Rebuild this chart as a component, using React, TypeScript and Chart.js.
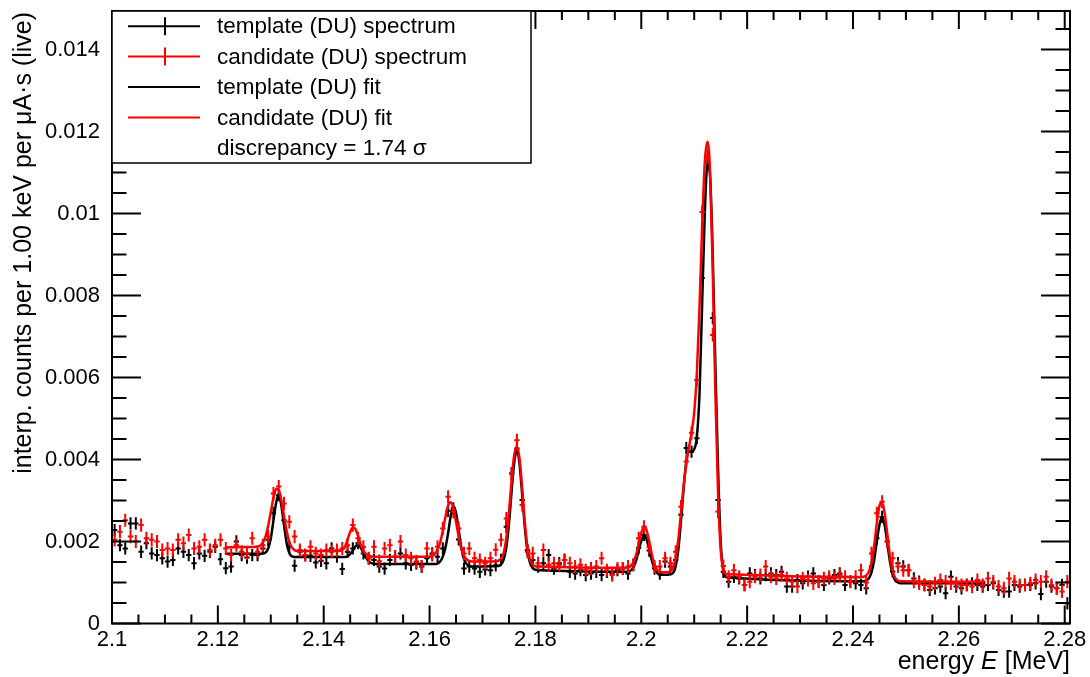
import React, { useEffect, useRef } from "react";
import { Chart, registerables } from "chart.js";

Chart.register(...registerables);

const FONT = "'Liberation Sans', Arial, Helvetica, sans-serif";
const UNIT = 1e-3; // spectrum values below are in units of 1e-3

// axis ranges
const X_MIN = 2.1;
const X_MAX = 2.281;
const Y_MIN = 0;
const Y_MAX = 0.01494;

// bins (1 keV wide)
const FIRST_BIN_CENTER = 2.1005;
const BIN_WIDTH = 0.001;

// template (DU) spectrum, black
const templateSpectrum = [
  2.28, 1.91, 1.83, 2.44, 2.44, 1.75, 1.96, 1.71, 1.67, 1.59,
  1.51, 1.55, 1.83, 1.75, 1.67, 1.47, 1.71, 1.65, 1.75, 1.87,
  1.57, 1.35, 1.39, 2.0, 1.67, 1.61, 1.67, 1.67, 1.83, 2.04,
  2.69, 3.13, 2.52, 1.87, 1.41, 1.75, 1.67, 1.65, 1.49, 1.53,
  1.47, 1.83, 1.63, 1.33, 1.75, 1.83, 1.96, 1.71, 1.59, 1.55,
  1.39, 1.34, 1.55, 1.63, 1.71, 1.47, 1.43, 1.47, 1.39, 1.59,
  1.71, 1.63, 1.83, 2.75, 2.81, 2.05, 1.34, 1.39, 1.34, 1.26,
  1.32, 1.3, 1.42, 1.55, 2.36, 3.66, 4.27, 3.01, 1.79, 1.55,
  1.39, 1.47, 1.67, 1.34, 1.47, 1.55, 1.26, 1.22, 1.3, 1.18,
  1.22, 1.26, 1.18, 1.26, 1.22, 1.3, 1.34, 1.22, 1.43, 1.84,
  2.16, 1.78, 1.34, 1.22, 1.51, 1.39, 1.55, 2.65, 4.28, 4.19,
  4.52, 8.43, 11.26, 7.45, 3.01, 1.26, 1.02, 1.14, 1.1, 0.94,
  1.22, 1.18, 1.1, 1.18, 1.22, 1.18, 1.26, 0.9, 0.9, 1.06,
  0.98, 1.14, 1.22, 1.02, 0.94, 1.1, 1.18, 1.22, 0.94, 1.02,
  0.98, 0.94, 0.86, 1.39, 2.08, 2.6, 2.0, 1.27, 1.47, 1.39,
  1.3, 1.1, 1.02, 0.94, 0.82, 0.86, 0.9, 0.74, 1.14, 0.9,
  0.86, 0.94, 0.98, 0.94, 0.9, 0.94, 0.98, 0.82, 0.78, 0.78,
  0.94, 0.9, 0.94, 0.94, 0.98, 0.72, 1.02, 0.9, 0.86, 0.94,
  0.49,
];

// candidate (DU) spectrum, red
const candidateSpectrum = [
  2.04, 2.24, 2.52, 2.12, 2.0, 2.4, 2.08, 2.04, 2.0, 1.79,
  1.83, 1.79, 2.04, 1.96, 2.16, 1.83, 1.87, 2.04, 1.79, 1.91,
  2.04, 1.83, 1.67, 1.91, 1.75, 1.71, 2.08, 1.75, 1.91, 2.12,
  3.17, 3.34, 2.93, 2.48, 2.12, 1.79, 1.67, 1.87, 1.71, 1.67,
  1.79, 1.75, 1.79, 1.83, 1.91, 2.4, 2.08, 1.87, 1.59, 1.87,
  1.52, 1.83, 1.91, 1.63, 2.0, 1.67, 1.59, 1.51, 1.39, 1.83,
  1.67, 1.87, 2.32, 3.09, 2.73, 2.32, 1.71, 1.83, 1.59, 1.55,
  1.47, 1.59, 1.8, 2.04, 2.56, 3.66, 4.47, 2.89, 1.75, 1.71,
  1.47, 1.79, 1.43, 1.47, 1.43, 1.55, 1.47, 1.39, 1.43, 1.3,
  1.34, 1.39, 1.59, 1.3, 1.18, 1.34, 1.34, 1.39, 1.43, 2.08,
  2.36, 1.87, 1.39, 1.39, 1.59, 1.47, 1.75, 2.85, 3.95, 4.65,
  5.94, 10.04, 11.39, 7.04, 2.73, 1.4, 1.14, 1.3, 1.14, 0.94,
  1.02, 1.14, 1.18, 1.39, 1.14, 1.1, 1.18, 1.1, 1.02, 0.9,
  1.1, 1.06, 0.98, 1.02, 1.1, 1.14, 1.1, 1.18, 1.14, 1.02,
  1.14, 1.3, 1.0, 1.71, 2.69, 2.97, 2.0, 1.59, 1.39, 1.3,
  1.3, 1.02, 0.98, 0.94, 0.9, 0.98, 1.06, 1.02, 0.98, 0.98,
  0.94, 0.94, 0.9, 1.06, 0.94, 1.1, 1.02, 0.9, 0.86, 1.1,
  1.02, 0.94, 0.94, 0.98, 1.06, 1.02, 1.14, 0.94, 0.86, 0.78,
  1.02,
];

const TEMPLATE_ERR = 0.15;
const CANDIDATE_ERR = 0.16;

// template (DU) fit, black
const templateFitE = [
  2.1215, 2.128, 2.1285, 2.129, 2.1295, 2.13, 2.1305, 2.131, 2.1315, 2.132, 2.1325, 2.133, 2.1335, 2.134, 2.135,
  2.144, 2.1445, 2.145, 2.1455, 2.146, 2.1465, 2.147, 2.1475, 2.148, 2.1485, 2.149, 2.15,
  2.161, 2.1615, 2.162, 2.1625, 2.163, 2.1635, 2.164, 2.1645, 2.165, 2.1655, 2.166, 2.1665, 2.167, 2.1675, 2.168,
  2.173, 2.1735, 2.174, 2.1745, 2.175, 2.1755, 2.176, 2.1765, 2.177, 2.1775, 2.178, 2.1785, 2.179, 2.1795, 2.18, 2.181,
  2.197, 2.1976, 2.1981, 2.1986, 2.1991, 2.1996, 2.2001, 2.2006, 2.2011, 2.2016, 2.2021, 2.2026, 2.2031, 2.2036,
  2.205, 2.2055, 2.206, 2.2065, 2.207, 2.2075, 2.208, 2.2085, 2.209, 2.2095, 2.21, 2.2105, 2.211, 2.2115, 2.212,
  2.2125, 2.213, 2.2135, 2.214, 2.2145, 2.215, 2.2155, 2.216, 2.2165,
  2.242, 2.2425, 2.243, 2.2435, 2.244, 2.2445, 2.245, 2.2455, 2.246, 2.2465, 2.247, 2.2475, 2.248, 2.2485, 2.249, 2.265,
];
const templateFitV = [
  1.7, 1.7, 1.71, 1.73, 1.83, 2.07, 2.51, 2.94, 3.15, 2.88, 2.4, 1.96, 1.72, 1.64, 1.62,
  1.62, 1.64, 1.69, 1.78, 1.88, 1.92, 1.85, 1.72, 1.6, 1.52, 1.47, 1.45,
  1.45, 1.46, 1.51, 1.63, 1.85, 2.2, 2.62, 2.86, 2.7, 2.28, 1.85, 1.57, 1.45, 1.4, 1.39,
  1.4, 1.44, 1.56, 1.86, 2.43, 3.23, 3.93, 4.24, 3.89, 3.14, 2.34, 1.77, 1.47, 1.35, 1.31, 1.3,
  1.26, 1.27, 1.3, 1.39, 1.57, 1.83, 2.05, 2.16, 2.01, 1.75, 1.49, 1.31, 1.22, 1.19,
  1.19, 1.2, 1.23, 1.4, 1.8, 2.5, 3.3, 3.95, 4.2, 4.2, 4.25, 4.55, 5.6, 7.8, 10.0,
  11.2, 10.9, 9.0, 6.3, 3.8, 2.0, 1.28, 1.14, 1.12,
  1.03, 1.05, 1.1, 1.25, 1.55, 2.0, 2.41, 2.6, 2.39, 1.95, 1.5, 1.2, 1.05, 1.0, 0.98, 0.98,
];

// candidate (DU) fit, red
const candidateFitE = [
  2.1215, 2.1275, 2.128, 2.1285, 2.129, 2.1295, 2.13, 2.1305, 2.131, 2.1315, 2.132, 2.1325, 2.133, 2.1335, 2.134, 2.1345, 2.135,
  2.143, 2.1435, 2.144, 2.1445, 2.145, 2.1455, 2.146, 2.1465, 2.147, 2.1475, 2.148, 2.1485, 2.1495,
  2.16, 2.1605, 2.161, 2.1615, 2.162, 2.1625, 2.163, 2.1635, 2.164, 2.1645, 2.165, 2.1655, 2.166, 2.1665, 2.167, 2.168,
  2.1725, 2.173, 2.1735, 2.174, 2.1745, 2.175, 2.1755, 2.176, 2.1765, 2.177, 2.1775, 2.178, 2.1785, 2.179, 2.1795, 2.18, 2.181,
  2.197, 2.1976, 2.1981, 2.1986, 2.1991, 2.1996, 2.2001, 2.2006, 2.2011, 2.2016, 2.2021, 2.2026, 2.2031, 2.2036,
  2.205, 2.2055, 2.206, 2.2065, 2.207, 2.2075, 2.208, 2.2085, 2.209, 2.2095, 2.21, 2.2105, 2.211, 2.2115, 2.212,
  2.2125, 2.213, 2.2135, 2.214, 2.2145, 2.215, 2.2155, 2.216, 2.2165,
  2.2415, 2.242, 2.2425, 2.243, 2.2435, 2.244, 2.2445, 2.245, 2.2455, 2.246, 2.2465, 2.247, 2.2475, 2.248, 2.2485, 2.249, 2.265,
];
const candidateFitV = [
  1.86, 1.87, 1.9, 1.97, 2.12, 2.38, 2.72, 3.06, 3.28, 3.26, 3.0, 2.62, 2.26, 1.99, 1.85, 1.79, 1.77,
  1.77, 1.8, 1.87, 2.05, 2.23, 2.34, 2.3, 2.13, 1.93, 1.78, 1.69, 1.65, 1.63,
  1.63, 1.65, 1.7, 1.8, 1.97, 2.26, 2.6, 2.88, 2.96, 2.8, 2.48, 2.12, 1.83, 1.65, 1.56, 1.51,
  1.52, 1.53, 1.58, 1.72, 2.08, 2.72, 3.5, 4.12, 4.32, 4.02, 3.3, 2.47, 1.86, 1.55, 1.43, 1.4, 1.39,
  1.36, 1.37, 1.41, 1.51, 1.71, 2.0, 2.25, 2.37, 2.23, 1.93, 1.62, 1.4, 1.29, 1.25,
  1.25, 1.28, 1.36, 1.6, 2.05, 2.7, 3.35, 3.9, 4.3, 4.65, 5.15, 6.1, 7.7, 9.7, 11.25,
  11.75, 11.0, 8.6, 5.6, 3.2, 1.8, 1.32, 1.21, 1.2,
  1.13, 1.14, 1.17, 1.26, 1.48, 1.9, 2.45, 2.87, 2.96, 2.68, 2.15, 1.63, 1.28, 1.11, 1.05, 1.03, 1.02,
];

// axes
const xMajorTicks = [2.1, 2.12, 2.14, 2.16, 2.18, 2.2, 2.22, 2.24, 2.26, 2.28];
const xMajorLabels = ["2.1", "2.12", "2.14", "2.16", "2.18", "2.2", "2.22", "2.24", "2.26", "2.28"];
const X_MINOR_STEP = 0.005;
const yMajorTicks = [0, 0.002, 0.004, 0.006, 0.008, 0.01, 0.012, 0.014];
const yMajorLabels = ["0", "0.002", "0.004", "0.006", "0.008", "0.01", "0.012", "0.014"];
const Y_MINOR_STEP = 0.0005;

const X_TITLE_PARTS = ["energy ", "E", " [MeV]"];
const Y_TITLE = "interp. counts per 1.00 keV per \u03bcA\u00b7s (live)";

const legendEntries = [
  { label: "template (DU) spectrum", color: "#000000", kind: "cross" },
  { label: "candidate (DU) spectrum", color: "#ff0000", kind: "cross" },
  { label: "template (DU) fit", color: "#000000", kind: "line" },
  { label: "candidate (DU) fit", color: "#ff0000", kind: "line" },
  { label: "discrepancy = 1.74 \u03c3", color: "#000000", kind: "none" },
];

const binCenters = templateSpectrum.map((_, k) => FIRST_BIN_CENTER + k * BIN_WIDTH);

function drawCrosses(chart: any, values: number[], err: number, color: string) {
  const { ctx, chartArea: a } = chart;
  const xs = chart.scales.x;
  const ys = chart.scales.y;
  ctx.save();
  ctx.beginPath();
  ctx.rect(a.left, a.top, a.right - a.left, a.bottom - a.top);
  ctx.clip();
  ctx.strokeStyle = color;
  ctx.lineWidth = 2;
  ctx.beginPath();
  values.forEach((v, k) => {
    const e = binCenters[k];
    const px = xs.getPixelForValue(e);
    const py = ys.getPixelForValue(v * UNIT);
    const x0 = xs.getPixelForValue(e - BIN_WIDTH / 2);
    const x1 = xs.getPixelForValue(e + BIN_WIDTH / 2);
    const y0 = ys.getPixelForValue((v - err) * UNIT);
    const y1 = ys.getPixelForValue((v + err) * UNIT);
    ctx.moveTo(x0, py);
    ctx.lineTo(x1, py);
    ctx.moveTo(px, y0);
    ctx.lineTo(px, y1);
  });
  ctx.stroke();
  ctx.restore();
}

const rootStylePlugin = {
  id: "rootStyle",
  beforeDatasetsDraw(chart: any) {
    drawCrosses(chart, templateSpectrum, TEMPLATE_ERR, "#000000");
  },
  beforeDatasetDraw(chart: any, args: any) {
    if (args.index === 1) drawCrosses(chart, candidateSpectrum, CANDIDATE_ERR, "#ff0000");
  },
  afterDraw(chart: any) {
    const { ctx, chartArea: a } = chart;
    const xs = chart.scales.x;
    const ys = chart.scales.y;
    ctx.save();
    ctx.strokeStyle = "#000";
    ctx.lineWidth = 2;
    // ticks
    const xMajLen = 18, xMinLen = 9, yMajLen = 29, yMinLen = 14.5;
    ctx.beginPath();
    for (let i = 0; ; i++) {
      const v = X_MIN + i * X_MINOR_STEP;
      if (v > X_MAX + 1e-9) break;
      const isMajor = i % 4 === 0;
      const len = isMajor ? xMajLen : xMinLen;
      const px = xs.getPixelForValue(v);
      ctx.moveTo(px, a.bottom);
      ctx.lineTo(px, a.bottom - len);
      ctx.moveTo(px, a.top);
      ctx.lineTo(px, a.top + len);
    }
    for (let i = 0; ; i++) {
      const v = Y_MIN + i * Y_MINOR_STEP;
      if (v > Y_MAX + 1e-12) break;
      const isMajor = i % 4 === 0;
      const len = isMajor ? yMajLen : yMinLen;
      const py = ys.getPixelForValue(v);
      ctx.moveTo(a.left, py);
      ctx.lineTo(a.left + len, py);
      ctx.moveTo(a.right, py);
      ctx.lineTo(a.right - len, py);
    }
    ctx.stroke();
    ctx.strokeRect(a.left, a.top, a.right - a.left, a.bottom - a.top);

    // tick labels
    ctx.fillStyle = "#000";
    ctx.font = `22px ${FONT}`;
    ctx.textAlign = "center";
    ctx.textBaseline = "middle";
    xMajorTicks.forEach((v, i) => {
      ctx.fillText(xMajorLabels[i], xs.getPixelForValue(v), a.bottom + 16);
    });
    ctx.textAlign = "right";
    yMajorTicks.forEach((v, i) => {
      ctx.fillText(yMajorLabels[i], a.left - 12, ys.getPixelForValue(v));
    });

    // x title
    const tNormal = `25px ${FONT}`;
    const tItalic = `italic 25px ${FONT}`;
    ctx.textBaseline = "alphabetic";
    ctx.textAlign = "left";
    const fonts = [tNormal, tItalic, tNormal];
    let total = 0;
    const widths = X_TITLE_PARTS.map((p, i) => {
      ctx.font = fonts[i];
      const w = ctx.measureText(p).width;
      total += w;
      return w;
    });
    let cx = a.right - total;
    X_TITLE_PARTS.forEach((p, i) => {
      ctx.font = fonts[i];
      ctx.fillText(p, cx, 669);
      cx += widths[i];
    });

    // y title
    ctx.save();
    ctx.font = tNormal;
    ctx.translate(31, 12);
    ctx.rotate(-Math.PI / 2);
    ctx.textAlign = "right";
    ctx.textBaseline = "alphabetic";
    ctx.fillText(Y_TITLE, 0, 0);
    ctx.restore();

    // legend
    const lx0 = a.left, ly0 = a.top, lx1 = 531, ly1 = 163;
    ctx.fillStyle = "#fff";
    ctx.fillRect(lx0, ly0, lx1 - lx0, ly1 - ly0);
    ctx.lineWidth = 1.5;
    ctx.strokeStyle = "#000";
    ctx.strokeRect(lx0, ly0, lx1 - lx0, ly1 - ly0);
    const rowH = (ly1 - ly0) / legendEntries.length;
    const legendFont = `22.5px ${FONT}`;
    legendEntries.forEach((en, i) => {
      const cy = ly0 + rowH * (i + 0.5);
      if (en.kind !== "none") {
        ctx.strokeStyle = en.color;
        ctx.lineWidth = 2;
        ctx.beginPath();
        ctx.moveTo(128, cy);
        ctx.lineTo(200, cy);
        if (en.kind === "cross") {
          ctx.moveTo(165, cy - 9);
          ctx.lineTo(165, cy + 9);
        }
        ctx.stroke();
      }
      ctx.fillStyle = "#000";
      ctx.font = legendFont;
      ctx.textAlign = "left";
      ctx.textBaseline = "middle";
      ctx.fillText(en.label, 217, cy + 1);
    });
    ctx.restore();
  },
};

export default function App() {
  const canvasRef = useRef<HTMLCanvasElement | null>(null);

  useEffect(() => {
    if (!canvasRef.current) return;
    const toPts = (xs: number[], ys: number[]) => xs.map((x, i) => ({ x, y: ys[i] * UNIT }));
    const chart = new Chart(canvasRef.current, {
      type: "scatter",
      data: {
        datasets: [
          {
            label: "template (DU) fit",
            data: toPts(templateFitE, templateFitV),
            showLine: true,
            borderColor: "#000000",
            backgroundColor: "#000000",
            borderWidth: 2.5,
            pointRadius: 0,
            cubicInterpolationMode: "monotone",
            order: 2,
          },
          {
            label: "candidate (DU) fit",
            data: toPts(candidateFitE, candidateFitV),
            showLine: true,
            borderColor: "#ff0000",
            backgroundColor: "#ff0000",
            borderWidth: 2.5,
            pointRadius: 0,
            cubicInterpolationMode: "monotone",
            order: 1,
          },
        ],
      } as any,
      options: {
        animation: false,
        responsive: false,
        devicePixelRatio: 1,
        layout: { padding: { left: 112, top: 11, right: 20, bottom: 53.5 } },
        scales: {
          x: { type: "linear", min: X_MIN, max: X_MAX, display: false },
          y: { type: "linear", min: Y_MIN, max: Y_MAX, display: false },
        },
        plugins: {
          legend: { display: false },
          tooltip: { enabled: false },
        },
        events: [],
      } as any,
      plugins: [rootStylePlugin],
    });
    return () => chart.destroy();
  }, []);

  return (
    <div style={{ position: "fixed", left: 0, top: 0, width: 1090, height: 677, background: "#fff" }}>
      <canvas ref={canvasRef} width={1090} height={677} style={{ width: 1090, height: 677, display: "block" }} />
    </div>
  );
}
